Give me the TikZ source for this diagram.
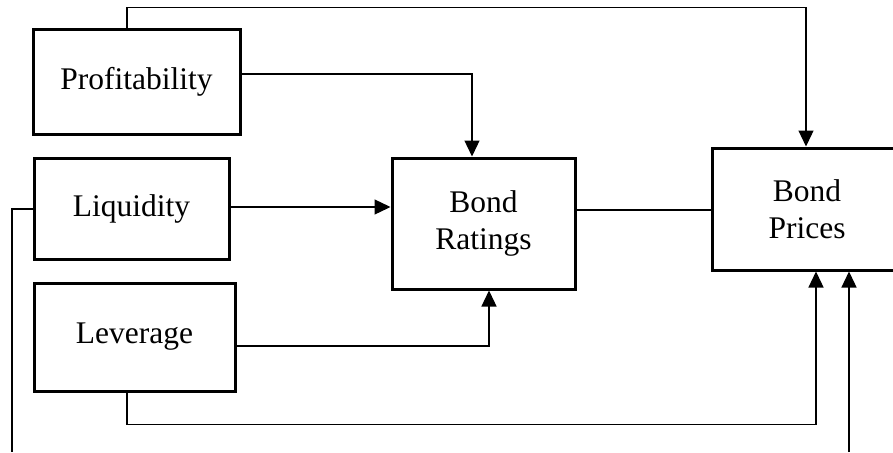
\documentclass[tikz,border=0pt]{standalone}
\usepackage{fontspec}
\setmainfont{Liberation Serif}
\usetikzlibrary{positioning,arrows.meta}

\begin{document}
\begin{tikzpicture}[x=1pt,y=-1pt,>={Triangle[length=16pt,width=15pt]},on grid,
  every node/.style={font=\fontsize{31.5}{37}\selectfont},
  factor/.style={draw,line width=3pt,align=center,inner sep=0pt},
  link/.style={line width=1.3pt}]
  \useasboundingbox (0,0) rectangle (893,452);
  \node[factor,minimum width=207pt,minimum height=104pt] (prof) at (136.5,82) {Profitability};
  \node[factor,minimum width=195pt,minimum height=101pt] (liq) [below=126.5pt of prof,xshift=-5pt] {Liquidity};
  \node[factor,minimum width=201pt,minimum height=108pt] (lev) [below=128.5pt of liq,xshift=3pt] {Leverage};
  \node[factor,minimum width=183pt,minimum height=131pt] (rating) at (483.5,223.5) {Bond\\Ratings};
  \node[factor,minimum width=190pt,minimum height=122pt] (price) [right=323.5pt of rating,yshift=14.5pt] {Bond\\Prices};
  \coordinate (liqend) at (12,452);
  \coordinate (other) at (849,452);
  % inputs to the ratings
  \draw[link,->] ([yshift=8pt]prof.east) -| ([xshift=-11.5pt]rating.north);
  \draw[link,->] ([yshift=1.5pt]liq.east) -- ([yshift=1.5pt]liq.east -| rating.west);
  \draw[link,->] ([yshift=-9pt]lev.east) -| ([xshift=5.5pt]rating.south);
  % inputs to the prices
  \draw[link] ([yshift=13.5pt]rating.east) -- ([yshift=13.5pt]rating.east -| price.west);
  \draw[link,->] ([xshift=-9.5pt]prof.north) -- ++(0,-21) -| ([xshift=-1pt]price.north);
  \draw[link,->] ([xshift=-7.5pt]lev.south) -- ++(0,32) -| ([xshift=9pt]price.south);
  \draw[link,->] (other) -- (other |- price.south);
  \draw[link] ([yshift=-0.5pt]liq.west) -| (liqend);
\end{tikzpicture}
\end{document}
